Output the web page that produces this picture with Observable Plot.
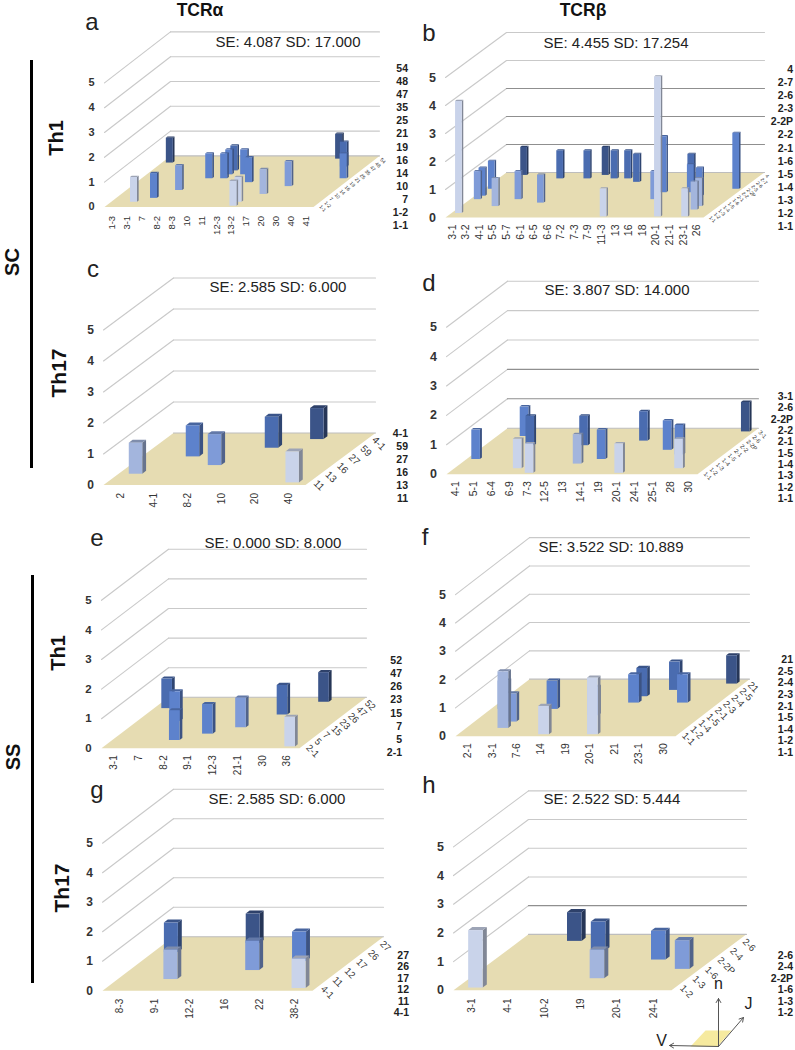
<!DOCTYPE html>
<html>
<head>
<meta charset="utf-8">
<script src="https://cdn.jsdelivr.net/npm/d3@7"></script>
<script src="https://cdn.jsdelivr.net/npm/@observablehq/plot@0.6"></script>
<style>
html,body{margin:0;padding:0;background:#fff;}
#page{position:relative;width:795px;height:1050px;overflow:hidden;font-family:"Liberation Sans",Arial,sans-serif;color:#111;}
.abs{position:absolute;white-space:nowrap;line-height:1;transform:translate(-50%,-50%);}
.rot{transform:translate(-50%,-50%) rotate(-90deg);font-weight:bold;}
.bar{position:absolute;background:#000;}
.jl{position:absolute;font-weight:bold;font-size:10.5px;line-height:1;white-space:nowrap;transform:translate(-100%,-50%);color:#222;}
</style>
</head>
<body>
<div id="page"></div>
<script>
// ---- data: V gene, J gene, clone count n ----
const vA = ["1-3","3-1","7","8-2","8-3","10","11","12-3","13-2","17","20","30","40","41"];
const jA = ["1-1","1-2","7","10","14","16","19","21","25","35","47","48","54"];
const barsA = [["1-3","48",1],["30","54",1],["40","47",1],["10","35",1],["10","25",1],["11","25",1],["10","21",1],["8-3","21",1],["41","21",1],["12-3","19",1],["20","16",1],["8-2","14",1],["17","10",1],["7","7",1],["3-1","1-2",1],["13-2","1-2",1],["13-2","1-1",1]];

const vB = ["3-1","3-2","4-1","5-5","5-7","6-1","6-5","6-6","7-2","7-3","7-9","11-3","13","16","18","20-1","21-1","23-1","26"];
const jB = ["1-1","1-2","1-3","1-4","1-5","1-6","2-1","2-2","2-2P","2-3","2-6","2-7","4"];
const barsB = [["3-2","4",1],["6-6","4",1],["5-7","2-7",1],["6-5","2-7",1],["7-2","2-7",1],["7-3","2-7",1],["7-9","2-6",1],["18","2-6",1],["3-1","2-2P",1],["26","2-2P",2],["16","2-2",2],["20-1","2-2",1],["3-1","2-1",1],["21-1","2-1",1],["3-1","1-6",1],["5-5","1-6",1],["16","1-6",1],["6-1","1-5",1],["4-1","1-4",1],["23-1","1-4",1],["23-1","1-3",1],["3-1","1-2",4],["11-3","1-1",1],["20-1","1-1",5],["23-1","1-1",1]];

const vC = ["2","4-1","8-2","10","20","40"];
const jC = ["11","13","16","27","59","4-1"];
const barsC = [["20","4-1",1],["10","59",1],["4-1","27",1],["8-2","16",1],["2","13",1],["40","11",1]];

const vD = ["4-1","5-1","6-4","6-9","7-3","12-5","13","14-1","19","20-1","24-1","25-1","28","30"];
const jD = ["1-1","1-2","1-3","1-4","1-5","2-1","2-2","2-2P","2-6","3-1"];
const barsD = [["30","3-1",1],["5-1","2-6",1],["19","2-2P",1],["6-4","2-2",1],["12-5","2-2",1],["24-1","2-1",1],["25-1","1-5",1],["4-1","1-4",1],["14-1","1-4",1],["13","1-3",1],["6-9","1-2",1],["28","1-2",1],["7-3","1-1",1],["20-1","1-1",1]];

const vE = ["3-1","7","8-2","9-1","12-3","21-1","30","36"];
const jE = ["2-1","5","7","15","23","26","47","52"];
const barsE = [["30","52",1],["3-1","47",1],["21-1","26",1],["7","23",1],["12-3","15",1],["9-1","7",1],["8-2","5",1],["36","2-1",1]];

const vF = ["2-1","3-1","7-6","14","19","20-1","21","23-1","30"];
const jF = ["1-1","1-2","1-4","1-5","2-1","2-3","2-4","2-5","21"];
const barsF = [["30","21",1],["21","2-5",1],["20-1","2-4",1],["20-1","2-3",1],["23-1","2-3",1],["2-1","2-1",1],["7-6","2-1",1],["19","1-5",1],["3-1","1-4",1],["3-1","1-2",2],["14","1-1",1],["20-1","1-1",2]];

const vG = ["8-3","9-1","12-2","16","22","38-2"];
const jG = ["4-1","11","12","17","26","27"];
const barsG = [["12-2","27",1],["8-3","26",1],["22","17",1],["16","12",1],["9-1","11",1],["38-2","4-1",1]];

const vH = ["3-1","4-1","10-2","19","20-1","24-1"];
const jH = ["1-2","1-3","1-6","2-2P","2-4","2-6"];
const barsH = [["4-1","2-6",1],["10-2","2-4",1],["20-1","2-2P",1],["24-1","1-6",1],["19","1-3",1],["3-1","1-2",2]];

const statsText = ["SE: 4.087 SD: 17.000","SE: 4.455 SD: 17.254","SE: 2.585 SD: 6.000","SE: 3.807 SD: 14.000","SE: 0.000 SD: 8.000","SE: 3.522 SD: 10.889","SE: 2.585 SD: 6.000","SE: 2.522 SD: 5.444"];
const panelLetters = ["a","b","c","d","e","f","g","h"];
const nTicks = [0,1,2,3,4,5];

// ---- styling and layout ----
const shades = ["#c9d3ea","#a3b5dd","#7f9bd8","#5d82cc","#4a6cb0","#3b5488"];
const jShade = [
  [0,0,3,1,2,2,3,3,3,4,4,5,5],
  [0,0,1,1,2,2,3,3,3,3,4,4,5],
  [0,1,2,3,4,5],
  [0,0,1,3,3,3,4,4,3,5],
  [0,3,3,2,3,4,4,5],
  [0,1,2,2,3,3,4,4,5],
  [0,1,2,3,4,5],
  [0,1,2,3,4,5]
];
const data = [[vA,jA,barsA],[vB,jB,barsB],[vC,jC,barsC],[vD,jD,barsD],[vE,jE,barsE],[vF,jF,barsF],[vG,jG,barsG],[vH,jH,barsH]];
const layout = [
  {L:60, W:352,fl:[104,206],fr:[313,206],bl:[170,155],unit:24.8,w:.47,vF:9.5, vGap:9,tF:11,  jF:5,  dark:[],     right:408,jTop:68, jBot:225,se:[288,41], let:[92,22]},
  {L:412,W:383,fl:[445,217],fr:[703,217],bl:[506,172],unit:28,  w:.49,vF:10.5,vGap:7,tF:12.5,jF:5,  dark:[1,2,3],right:793,jTop:69, jBot:226,se:[616,42], let:[429,33]},
  {L:60, W:352,fl:[103,484],fr:[305,484],bl:[173,432],unit:31,  w:.4, vF:10,  vGap:8,tF:12,  jF:10, dark:[],     right:408,jTop:433,jBot:498,se:[278,286],let:[93,269]},
  {L:412,W:383,fl:[446,474],fr:[697,474],bl:[507,428],unit:29.4,w:.48,vF:10.5,vGap:7,tF:12.5,jF:6,  dark:[1,2],  right:793,jTop:396,jBot:498,se:[617,289],let:[429,283]},
  {L:60, W:352,fl:[101,748],fr:[299,748],bl:[168,697],unit:29.6,w:.43,vF:10,  vGap:7,tF:11.5,jF:9.5,dark:[],     right:402,jTop:660,jBot:752,se:[273,542],let:[97,538]},
  {L:412,W:383,fl:[455,736],fr:[675,736],bl:[529,679],unit:28.3,w:.44,vF:10.5,vGap:7,tF:12.5,jF:9.5,dark:[],     right:793,jTop:659,jBot:752,se:[611,546],let:[425,537]},
  {L:60, W:352,fl:[102,990],fr:[312,990],bl:[173,936],unit:29.5,w:.4, vF:10,  vGap:8,tF:12,  jF:9.5,dark:[],     right:409,jTop:955,jBot:1012,se:[277,798],let:[97,790]},
  {L:412,W:383,fl:[453,990],fr:[671,990],bl:[528,934],unit:28.7,w:.4, vF:10,  vGap:8,tF:12.5,jF:9.5,dark:[1],    right:793,jTop:955,jBot:1012,se:[612,798],let:[429,785]}
];
const FONT = '"Liberation Sans",Arial,sans-serif';
const page = document.getElementById("page");

function html(cls, text, x, y, css) {
  const d = document.createElement("div");
  d.className = cls; d.textContent = text;
  d.style.left = x + "px"; d.style.top = y + "px";
  Object.assign(d.style, css || {});
  page.appendChild(d);
}

function panel(idx) {
  const [vs, js, bars] = data[idx];
  const g = layout[idx];
  const nV = vs.length, nJ = js.length;
  const dv = (g.fr[0] - g.fl[0]) / nV;
  const sx = (g.bl[0] - g.fl[0]) / nJ / dv;   // V units per J step
  const sy = (g.fl[1] - g.bl[1]) / nJ / g.unit; // n units per J step
  const px = (v, j) => v + j * sx;
  const py = (n, j) => n + j * sy;
  const T = g.bl[1] - 5.5 * g.unit;
  const B = g.fl[1] + 45;
  const H = B - T;

  const floor = [[0,0],[nV,0],[nV,nJ],[0,nJ]].map(([v,j]) => ({x:px(v,j), y:py(0,j)}));

  const wall = [], back = [];
  for (const n of nTicks) {
    if (n > 0) {
      wall.push({n, x:px(0,0), y:py(n,0)}, {n, x:px(0,nJ), y:py(n,nJ)});
    }
    back.push({n, x:px(0,nJ), y:py(n,nJ)}, {n, x:px(nV,nJ), y:py(n,nJ)});
  }

  const d = .33, f0 = .3;
  const faces = [];
  bars
    .map(([v,j,n]) => ({v:vs.indexOf(v), j:js.indexOf(j), n}))
    .sort((a,b) => b.j - a.j)
    .forEach((b,i) => {
      const c = d3.color(shades[jShade[idx][b.j]]);
      const x0 = b.v + .5 - g.w/2, x1 = b.v + .5 + g.w/2;
      const j0 = b.j + f0, j1 = j0 + d;
      const add = (name, col, pts) => pts.forEach(([v,j,n]) => faces.push({face:i+name, col:col+"", x:px(v,j), y:py(n,j)}));
      add("s", c.darker(1.25), [[x1,j0,0],[x1,j1,0],[x1,j1,b.n],[x1,j0,b.n]]);
      add("t", c.darker(.7), [[x0,j0,b.n],[x1,j0,b.n],[x1,j1,b.n],[x0,j1,b.n]]);
      add("f", c, [[x0,j0,0],[x1,j0,0],[x1,j0,b.n],[x0,j0,b.n]]);
    });

  const svg = Plot.plot({
    width: g.W, height: H,
    marginLeft: 0, marginRight: 0, marginTop: 0, marginBottom: 0,
    x: {domain: [(g.L - g.fl[0]) / dv, (g.L + g.W - g.fl[0]) / dv], range: [0, g.W], axis: null},
    y: {domain: [(g.fl[1] - B) / g.unit, (g.fl[1] - T) / g.unit], range: [H, 0], axis: null},
    style: {position:"absolute", left: g.L + "px", top: T + "px", background:"transparent", overflow:"visible", fontFamily: FONT},
    marks: [
      Plot.line(floor, {x:"x", y:"y", fill:"#e6dcb2", stroke:"none"}),
      Plot.line(wall, {x:"x", y:"y", z:"n", stroke:"#c9c9c9", strokeWidth:1.1}),
      Plot.line(back, {x:"x", y:"y", z:"n", strokeWidth:1.1,
        stroke: p => p.n === 0 ? "#bdbdbd" : (g.dark.includes(p.n) ? "#8f8f8f" : "#c9c9c9")}),
      Plot.line(faces, {x:"x", y:"y", z:"face", fill:{value:p=>p.col, scale:null}, stroke:"none"}),
      Plot.text(nTicks, {x:0, y:n=>n, text:n=>String(n), dx:-13, fontSize:g.tF, fontWeight:"bold", fill:"#333"}),
      Plot.text(vs, {x:(s,i)=>i+.5, y:0, text:s=>s, rotate:-90, textAnchor:"end", dy:g.vGap, fontSize:g.vF, fill:"#333"}),
      Plot.text(js, {x:(s,i)=>px(nV,i+.5), y:(s,i)=>py(0,i+.5), text:s=>s, rotate:45, textAnchor:"start",
        dx:4, dy:1, fontSize:g.jF, fill:"#333"})
    ]
  });
  page.appendChild(svg);

  html("abs", statsText[idx], g.se[0], g.se[1], {fontSize:"15px", color:"#222"});
  html("abs", panelLetters[idx], g.let[0], g.let[1], {fontSize:"24px", color:"#222"});
  const rev = js.slice().reverse();
  rev.forEach((s,i) => html("jl", s, g.right, g.jTop + i * (g.jBot - g.jTop) / (rev.length - 1)));
}
layout.forEach((_, i) => panel(i));

// column and row headings
html("abs", "TCRα", 200, 11, {fontSize:"17.5px", fontWeight:"bold"});
html("abs", "TCRβ", 583, 11, {fontSize:"17.5px", fontWeight:"bold"});
html("abs rot", "Th1", 56, 138, {fontSize:"20px"});
html("abs rot", "Th17", 58, 373, {fontSize:"21px"});
html("abs rot", "Th1", 58, 653, {fontSize:"20px"});
html("abs rot", "Th17", 61, 888, {fontSize:"21px"});
html("abs rot", "SC", 12, 262, {fontSize:"20px"});
html("abs rot", "SS", 13, 757, {fontSize:"20px"});
[[30,60,408],[31,575,408]].forEach(([x,y,h]) => {
  const b = document.createElement("div");
  b.className = "bar";
  Object.assign(b.style, {left:x+"px", top:y+"px", width:"3px", height:h+"px"});
  page.appendChild(b);
});

// axis key (V, J, n)
const keyArrows = [
  {x1:0, y1:0, x2:0, y2:48},
  {x1:0, y1:0, x2:-49, y2:1},
  {x1:0, y1:0, x2:25, y2:29}
];
const keyLabels = [{t:"n", x:0, y:63},{t:"V", x:-57, y:6},{t:"J", x:30, y:43}];
const keyFloor = [{x:-28,y:0},{x:-1,y:0},{x:13,y:16},{x:-13,y:16}];
page.appendChild(Plot.plot({
  width:130, height:75, marginLeft:0, marginRight:0, marginTop:0, marginBottom:0,
  x:{domain:[-68,62], range:[0,130], axis:null},
  y:{domain:[-4,71], range:[75,0], axis:null},
  style:{position:"absolute", left:"650px", top:"975px", background:"transparent", overflow:"visible", fontFamily:FONT},
  marks:[
    Plot.line(keyFloor, {x:"x", y:"y", fill:"#f6ea9f", stroke:"none"}),
    Plot.arrow(keyArrows, {x1:"x1", y1:"y1", x2:"x2", y2:"y2", stroke:"#555", strokeWidth:1, headLength:7, bend:0}),
    Plot.text(keyLabels, {x:"x", y:"y", text:"t", fontSize:16, fill:"#222"})
  ]
}));
</script>
</body>
</html>
